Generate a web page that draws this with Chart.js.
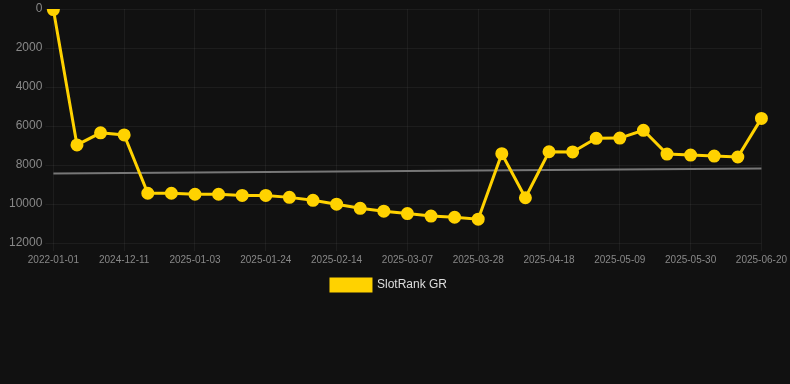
<!DOCTYPE html>
<html>
<head>
<meta charset="utf-8">
<script src="https://cdn.jsdelivr.net/npm/chart.js@4"></script>
<style>
  html, body { margin: 0; padding: 0; background: #111111; }
  #wrap { width: 790px; height: 301px; position: relative; }
</style>
</head>
<body>
<div id="wrap"><canvas id="chart"></canvas></div>
<script>
// dates on the x axis
const dates = [
  '2022-01-01', '2024-11-27', '2024-12-04', '2024-12-11', '2024-12-20', '2024-12-27',
  '2025-01-03', '2025-01-10', '2025-01-17', '2025-01-24', '2025-01-31', '2025-02-07',
  '2025-02-14', '2025-02-21', '2025-02-28', '2025-03-07', '2025-03-14', '2025-03-21',
  '2025-03-28', '2025-04-04', '2025-04-11', '2025-04-18', '2025-04-25', '2025-05-02',
  '2025-05-09', '2025-05-16', '2025-05-23', '2025-05-30', '2025-06-06', '2025-06-13',
  '2025-06-20'
];

// rank values (lower = better, axis reversed)
const rankGR = [
  30, 6970, 6350, 6460, 9450, 9450,
  9500, 9500, 9560, 9560, 9660, 9810,
  10010, 10220, 10370, 10490, 10620, 10680,
  10780, 7420, 9680, 7320, 7330, 6630,
  6620, 6220, 7440, 7490, 7540, 7590,
  5610
];

// trend line end points
const trendValues = [8440, 8185];

const yTicks = [0, 2000, 4000, 6000, 8000, 10000, 12000];

const yellow = '#FFD200';
const fontFamily = '"Liberation Sans", Arial, sans-serif';
const gridColor = 'rgba(255,255,255,0.05)';

new Chart(document.getElementById('chart'), {
  type: 'line',
  data: {
    labels: dates,
    datasets: [
      {
        label: 'SlotRank GR',
        data: rankGR,
        borderColor: yellow,
        backgroundColor: yellow,
        borderWidth: 3,
        pointRadius: 5,
        pointHoverRadius: 6,
        pointBackgroundColor: yellow,
        pointBorderColor: yellow,
        tension: 0
      },
      {
        label: 'trend',
        data: [
          { x: dates[0], y: trendValues[0] },
          { x: dates[dates.length - 1], y: trendValues[1] }
        ],
        borderColor: '#777777',
        backgroundColor: '#777777',
        borderWidth: 2,
        pointRadius: 0,
        tension: 0
      }
    ]
  },
  options: {
    responsive: true,
    maintainAspectRatio: false,
    animation: false,
    layout: { padding: { left: 6, right: 18, top: 0, bottom: 0 } },
    plugins: {
      legend: {
        position: 'bottom',
        labels: {
          color: '#dddddd',
          font: { family: fontFamily, size: 12 },
          boxWidth: 40,
          boxHeight: 12,
          filter: item => item.text !== 'trend'
        }
      },
      tooltip: { enabled: false }
    },
    scales: {
      x: {
        grid: {
          color: ctx => (ctx.index % 3 === 0 ? gridColor : 'rgba(0,0,0,0)')
        },
        border: { display: false },
        ticks: {
          color: '#888888',
          font: { family: fontFamily, size: 10 },
          maxRotation: 0,
          autoSkip: false,
          callback: function (val, i) { return i % 3 === 0 ? this.getLabelForValue(val) : ''; }
        }
      },
      y: {
        reverse: true,
        min: 0,
        max: 12000,
        afterBuildTicks: axis => { axis.ticks = yTicks.map(v => ({ value: v })); },
        grid: { color: gridColor },
        border: { display: false },
        ticks: {
          color: '#888888',
          font: { family: fontFamily, size: 12, lineHeight: 0.7 },
          callback: v => String(v)
        }
      }
    }
  }
});
</script>
</body>
</html>
